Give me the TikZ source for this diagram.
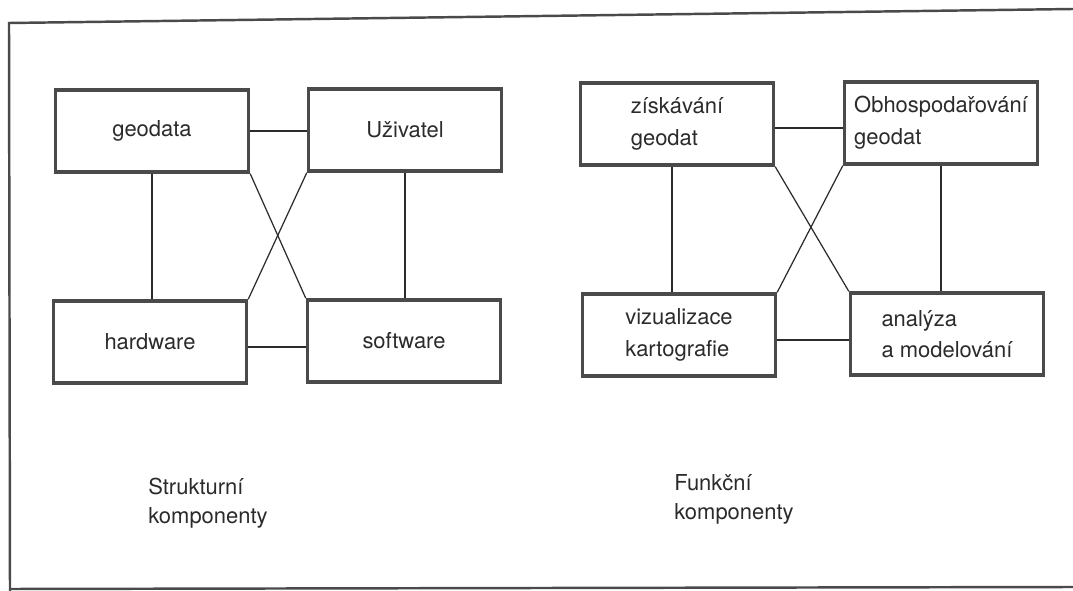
\documentclass[tikz,border=0pt]{standalone}
\usepackage{fontspec}
\setmainfont{TeX Gyre Heros}
\usepackage{xcolor}
\usepackage{tikz}
\usetikzlibrary{positioning,calc}

\definecolor{inkgray}{HTML}{2B2B2B}
\definecolor{framegray}{HTML}{4A4A4A}

\begin{document}
\begin{tikzpicture}[
      x=0.02cm,y=-0.02cm,
      box/.style={rectangle,draw=framegray,line width=2pt,minimum width=3.86cm,minimum height=1.64cm,
                  align=left,inner sep=0pt,text=inkgray,font=\fontsize{12.5}{18}\selectfont},
      link/.style={draw=inkgray,line width=0.7pt},
      caption/.style={align=left,inner sep=0pt,text=inkgray,font=\fontsize{12.5}{16.5}\selectfont}
      ]

      \useasboundingbox (0,0) rectangle (1073,591);

      % frame
      \draw[framegray,line width=1.4pt] (1073,9) -- (9,23) -- (10,591);
      \draw[framegray,line width=1.4pt] (10,589) -- (1073,587);

      % strukturni komponenty
      \node[box] at (152,131) (geodata) {geodata};
      \node[box] at (405,130) (uzivatel) {Uživatel};
      \node[box] at (150,342) (hardware) {hardware};
      \node[box] at (404,341) (software) {software};

      \draw[link] (geodata.east) -- (geodata.east -| uzivatel.west);
      \draw[link] (geodata.south) -- (geodata.south |- hardware.north);
      \draw[link] (uzivatel.south) -- (uzivatel.south |- software.north);
      \draw[link] ([yshift=-0.1cm]hardware.east) -- ([yshift=-0.1cm]hardware.east -| software.west);
      \draw[link] (geodata.south east) -- (software.north west);
      \draw[link] (uzivatel.south west) -- (hardware.north east);

      % funkcni komponenty
      \node[box] at (677,124) (ziskavani) {získávání\\geodat};
      \node[box] at (941,123) (obhosp) {Obhospodařování\\geodat};
      \node[box] at (679,335) (vizualizace) {vizualizace\\kartografie};
      \node[box] at (947,334) (analyza) {analýza\\a modelování};

      \draw[link] ([yshift=-0.08cm]ziskavani.east) -- ([yshift=-0.08cm]ziskavani.east -| obhosp.west);
      \draw[link] ([xshift=-0.1cm]ziskavani.south) -- ([xshift=-0.1cm]ziskavani.south |- vizualizace.north);
      \draw[link] (obhosp.south) -- (obhosp.south |- analyza.north);
      \draw[link] ([yshift=-0.1cm]vizualizace.east) -- ([yshift=-0.1cm]vizualizace.east -| analyza.west);
      \draw[link] (ziskavani.south east) -- (analyza.north west);
      \draw[link] (obhosp.south west) -- (vizualizace.north east);

      % popisky
      \node[caption,anchor=north west] at (148,478) (struktura) {Strukturní\\komponenty};
      \node[caption,anchor=north west] at (674,474) (funkce) {Funkční\\komponenty};

    \end{tikzpicture}
\end{document}
